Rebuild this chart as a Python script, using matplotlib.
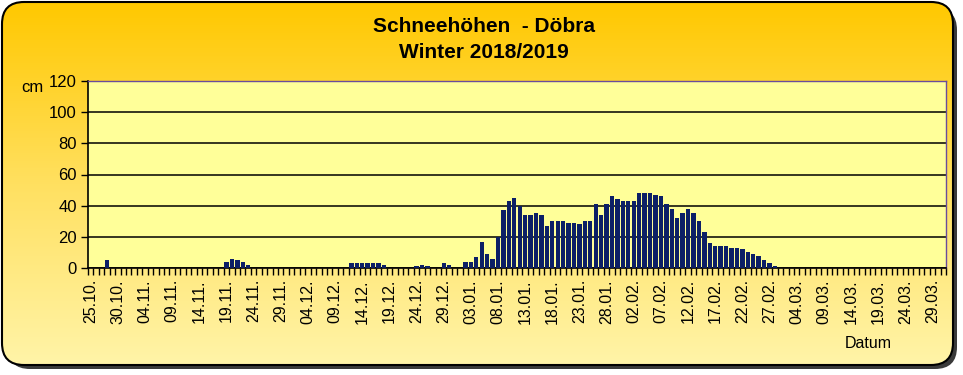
import datetime as dt
import numpy as np
import matplotlib
matplotlib.use("Agg")
import matplotlib.pyplot as plt
from matplotlib.patches import FancyBboxPatch

plt.rcParams['font.family'] = ['Liberation Sans', 'DejaVu Sans']

# Tage 25.10.2018 .. 31.03.2019
start = dt.date(2018, 10, 25)
n_days = 158
dates = [start + dt.timedelta(days=i) for i in range(n_days)]

# Schneehoehen in cm (nur Tage mit Schnee, sonst 0)
snow = {
    "28.10": 5,
    "19.11": 4, "20.11": 6, "21.11": 5, "22.11": 4, "23.11": 2,
    "12.12": 3, "13.12": 3, "14.12": 3, "15.12": 3, "16.12": 3, "17.12": 3, "18.12": 2,
    "24.12": 1, "25.12": 2, "26.12": 1, "29.12": 3, "30.12": 2,
    "02.01": 4, "03.01": 4, "04.01": 7, "05.01": 17, "06.01": 9, "07.01": 6,
    "08.01": 20, "09.01": 37, "10.01": 43, "11.01": 45, "12.01": 40, "13.01": 34,
    "14.01": 34, "15.01": 35, "16.01": 34, "17.01": 27, "18.01": 30, "19.01": 30,
    "20.01": 30, "21.01": 29, "22.01": 29, "23.01": 28, "24.01": 30, "25.01": 30,
    "26.01": 41, "27.01": 34, "28.01": 41, "29.01": 46, "30.01": 44, "31.01": 43,
    "01.02": 43, "02.02": 43, "03.02": 48, "04.02": 48, "05.02": 48, "06.02": 47,
    "07.02": 46, "08.02": 41, "09.02": 38, "10.02": 32, "11.02": 35, "12.02": 38,
    "13.02": 35, "14.02": 30, "15.02": 23, "16.02": 16, "17.02": 14, "18.02": 14,
    "19.02": 14, "20.02": 13, "21.02": 13, "22.02": 12, "23.02": 10, "24.02": 9,
    "25.02": 8, "26.02": 5, "27.02": 3, "28.02": 1,
}

labels = [d.strftime("%d.%m.") for d in dates]
values = [snow.get(d.strftime("%d.%m"), 0) for d in dates]

W, H = 963, 375
fig = plt.figure(figsize=(W / 100, H / 100), dpi=100)
fig.patch.set_facecolor('white')

# Hintergrund mit Verlauf und abgerundetem Rahmen
bg = fig.add_axes([0, 0, 1, 1])
bg.set_xlim(0, W)
bg.set_ylim(H, 0)
bg.axis('off')
shadow = FancyBboxPatch((8, 8), W - 14, H - 14,
                        boxstyle="round,pad=0,rounding_size=22",
                        fc='#3a3a3a', ec='none', zorder=0)
bg.add_patch(shadow)
frame = FancyBboxPatch((2, 2), W - 12, H - 12,
                       boxstyle="round,pad=0,rounding_size=22",
                       fc='none', ec='black', lw=1.5, zorder=3)
bg.add_patch(frame)
grad = np.linspace(0, 1, 256).reshape(-1, 1)
cmap = matplotlib.colors.LinearSegmentedColormap.from_list(
    'bg', ['#FFC800', '#FFE060', '#FFF4A8'])
im = bg.imshow(grad, cmap=cmap, extent=[2, W - 10, H - 10, 2],
               aspect='auto', zorder=1)
im.set_clip_path(frame)

# Titel
bg.text(484, 27, "Schneehöhen  - Döbra", ha='center', va='center',
        fontsize=15, fontweight='bold', zorder=4)
bg.text(484, 52, "Winter 2018/2019", ha='center', va='center',
        fontsize=15, fontweight='bold', zorder=4)
bg.text(32, 87, "cm", ha='center', va='center', fontsize=12, zorder=4)
bg.text(868, 343, "Datum", ha='center', va='center', fontsize=11.5, zorder=4)

# Diagramm
ax = fig.add_axes([88 / W, 1 - 268 / H, (946 - 88) / W, (268 - 81) / H])
ax.set_facecolor('#FFFF99')
x = np.arange(n_days)
ax.bar(x, values, width=0.8, color='#0C1F66', zorder=3)
ax.set_xlim(-0.5, n_days - 0.5)
ax.set_ylim(0, 120)
ax.set_yticks(np.arange(0, 121, 20))
ax.yaxis.grid(True, color='black', lw=1.1, zorder=1)
ax.tick_params(axis='y', labelsize=12, length=5, width=1, pad=3)

major = x[::5]
ax.set_xticks(major)
ax.set_xticklabels([labels[i] for i in major], rotation=90, fontsize=11.5)
ax.set_xticks(np.arange(-0.5, n_days, 1), minor=True)
ax.tick_params(axis='x', which='major', length=0, pad=8)
ax.tick_params(axis='x', which='minor', length=5, width=1)

for s in ['left', 'bottom']:
    ax.spines[s].set_color('black')
    ax.spines[s].set_linewidth(1.2)
for s in ['top', 'right']:
    ax.spines[s].set_color('#6A4C9C')
    ax.spines[s].set_linewidth(1)

fig.savefig('out.png', dpi=100)
